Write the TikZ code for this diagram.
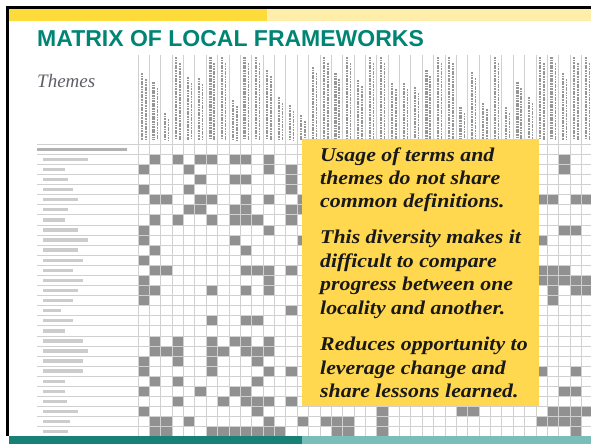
\documentclass[tikz,border=0pt]{standalone}
\usepackage{fontspec}
\setmainfont{Liberation Serif}
\newfontfamily\titlefont{Liberation Sans}
\newfontfamily\boxfont[FakeStretch=1.12]{Liberation Serif}
\definecolor{ydark}{RGB}{253,219,59}
\definecolor{ylight}{RGB}{255,238,170}
\definecolor{tdark}{RGB}{24,128,116}
\definecolor{tlight}{RGB}{122,190,186}
\definecolor{titlec}{RGB}{0,133,117}
\definecolor{boxy}{RGB}{255,216,80}
\definecolor{themec}{RGB}{95,95,105}
\definecolor{cellc}{RGB}{145,145,145}
\definecolor{gridc}{RGB}{208,208,208}
\definecolor{hdrc}{RGB}{150,150,150}
\tikzset{
  cellfill/.style={fill=cellc},
  gridline/.style={draw=gridc,line width=0.8pt},
  hdrstroke/.style={draw=hdrc,line width=2.2pt,dash pattern=on 1.8pt off 0.8pt},
  labelbar/.style={fill=gray!40},
  boxline/.style={anchor=base west,inner sep=0pt,font=\boxfont\bfseries\itshape\fontsize{19.5}{23}\selectfont,text=black!90},
}
\begin{document}
\begin{tikzpicture}[x=1pt,y=-1pt]
\useasboundingbox (0,0) rectangle (591,444);
\fill[white] (0,0) rectangle (591,444);
% column header strokes
\foreach \t [count=\i from 0] in {73,82,113,57,77,78,57,57,100,57,57,70,97,105,115,67,57,73,57,80,57,57,83,83,87,70,57,57,107,72,103,57,107,82,97,57,57,73,57,57}{
  \draw[hdrstroke] ({143.7+11.37*\i-1.5},\t) -- ({143.7+11.37*\i-1.5},140);
  \draw[hdrstroke,line width=1.4pt] ({143.7+11.37*\i+2.2},{\t+6}) -- ({143.7+11.37*\i+2.2},140);
}
% gray cells
\foreach \r/\cs in {1/{1,3,5,6,8,9,11,37},2/{0,4,11,13,37},3/{5,8,9,13},4/{0,4,13},5/{1,2,5,6,9,11,14,35,36,38,39},6/{4,5,8,9,13,14},7/{1,3,6,8,9,10,13},8/{0,11,37,38},9/{0,8,14,35},10/{1,9},11/{0},12/{1,2,9,10,11,13,35,36,37},13/{0,11,35,36,37,38,39},14/{0,1,6,9,11,36,38,39},15/{0,36},16/{13},17/{6,9,10},19/{1,3,6,8,9,11},20/{1,2,3,6,7,9,10,11},21/{0,3,6,10},22/{0,6,11,13,35,38},23/{1,3,10},24/{0,5,8,9,37,38},25/{3,7,9,10,11,13},26/{0,10,21,28,29,36,37,38,39},27/{1,2,4,11,14,16,17,18,21,35,36,37,38},28/{1,2,6,7,8,9,10,11,12,17,18,21,38}}{
  \foreach \c in \cs {
    \fill[cellfill] ({138+11.37*\c},{154.3+10.09*(\r-1)}) rectangle ++(11.37,10.09);
  }
}
% grid lines
\foreach \i in {0,...,40}{
  \draw[gridline] ({138+11.37*\i},55) -- ({138+11.37*\i},436);
}
\draw[gridline] (37,144) -- (591,144);
\foreach \k in {0,...,28}{
  \draw[gridline] (37,{154.3+10.09*\k}) -- (591,{154.3+10.09*\k});
}
% row labels
\fill[gray!60] (37,147.5) rectangle (127,151);
\foreach \len [count=\r] in {45,22,25,30,35,25,22,35,45,35,40,30,40,35,30,18,30,22,40,45,40,40,22,22,24,35,27,25}{
  \fill[labelbar] (43,{154.3+10.09*(\r-1)+3.3}) rectangle ++(\len,3.4);
}
% Themes
\node[anchor=base west,inner sep=0pt,font=\itshape\fontsize{19}{22}\selectfont,text=themec] (themes) at (37,87) {Themes};
% title
\node[anchor=base west,inner sep=0pt,font=\titlefont\bfseries\fontsize{23}{26}\selectfont,text=titlec] (title) at (37,47) {MATRIX OF LOCAL FRAMEWORKS};
% yellow box
\fill[boxy] (302,139) rectangle (539,406);
\node[boxline] (l1) at (320,161) {Usage of terms and};
\node[boxline] (l2) at (320,184.3) {themes do not share};
\node[boxline] (l3) at (320,207.3) {common definitions.};
\node[boxline] (l4) at (320,243.3) {This diversity makes it};
\node[boxline] (l5) at (320,267.3) {difficult to compare};
\node[boxline] (l6) at (320,290.7) {progress between one};
\node[boxline] (l7) at (320,314.3) {locality and another.};
\node[boxline] (l8) at (320,350.7) {Reduces opportunity to};
\node[boxline] (l9) at (320,374) {leverage change and};
\node[boxline] (l10) at (320,397.7) {share lessons learned.};
% bars and frame
\fill[ydark] (8.7,8.7) rectangle (267,21);
\fill[ylight] (267,8.7) rectangle (591,21);
\fill[tdark] (8.7,436) rectangle (302,444);
\fill[tlight] (302,436) rectangle (591,444);
\fill[black] (6,6) rectangle (591,8.7);
\fill[black] (6,6) rectangle (8.7,436);
\end{tikzpicture}
\end{document}
